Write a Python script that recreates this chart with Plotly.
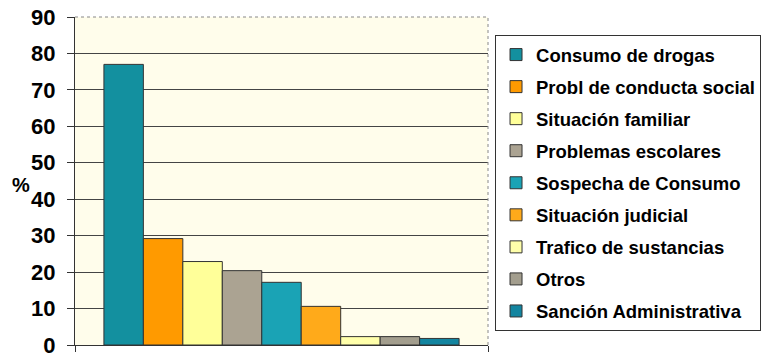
import plotly.graph_objects as go

categories = ["Consumo de drogas", "Probl de conducta social", "Situación familiar",
              "Problemas escolares", "Sospecha de Consumo", "Situación judicial",
              "Trafico de sustancias", "Otros", "Sanción Administrativa"]
values = [77, 29.2, 22.9, 20.4, 17.2, 10.6, 2.3, 2.3, 1.8]
colors = ["#13909F", "#FF9A00", "#FFFF99", "#ABA392", "#1AA3B5",
          "#FFAA1A", "#FFFFAA", "#A39E8E", "#1385A0"]
y_ticks = [0, 10, 20, 30, 40, 50, 60, 70, 80, 90]

fig = go.Figure()
for i, (name, v, c) in enumerate(zip(categories, values, colors)):
    fig.add_trace(go.Bar(
        x=["g"], y=[v], name=name, legendgroup=str(i),
        marker=dict(color=c, line=dict(color="#333333", width=1)),
    ))

fig.update_layout(
    width=763, height=356,
    margin=dict(l=75, r=275, t=17, b=11, autoexpand=False),
    paper_bgcolor="white",
    plot_bgcolor="#FFFDEB",
    barmode="group", bargap=0.14, bargroupgap=0,
    font=dict(family="Liberation Sans, Arial", color="black"),
    showlegend=True,
    legend=dict(
        x=1.017, y=0.945, xanchor="left", yanchor="top",
        traceorder="grouped", tracegroupgap=5,
        bgcolor="white", bordercolor="#333333", borderwidth=1,
        itemwidth=30,
        font=dict(size=18.5, family="Liberation Sans, Arial", weight="bold"),
    ),
    xaxis=dict(
        showticklabels=False, showgrid=False, showline=True,
        linecolor="#333333", linewidth=1,
        ticks="outside", tickson="boundaries", ticklen=6, tickcolor="#333333",
        range=[-0.5, 0.5],
    ),
    yaxis=dict(
        range=[0, 90], tickvals=y_ticks,
        showgrid=True, gridcolor="#444444", gridwidth=1,
        showline=True, linecolor="#333333", linewidth=1,
        ticks="outside", ticklen=7, tickcolor="#333333",
        ticklabelstandoff=7, ticklabeloverflow="allow",
        tickfont=dict(size=22, family="Liberation Sans, Arial", weight="bold"),
        zeroline=False,
    ),
    shapes=[
        dict(type="line", xref="paper", yref="paper", x0=0, x1=1, y0=1, y1=1,
             line=dict(color="#888888", width=1, dash="dot"), layer="above"),
        dict(type="line", xref="paper", yref="paper", x0=1, x1=1, y0=0, y1=1,
             line=dict(color="#888888", width=1, dash="dot"), layer="above"),
    ],
    annotations=[
        dict(text="%", xref="paper", yref="paper", x=-0.131, y=0.488,
             showarrow=False, font=dict(size=20, weight="bold"),
             xanchor="center", yanchor="middle"),
    ],
)

fig.write_html("out.html")
